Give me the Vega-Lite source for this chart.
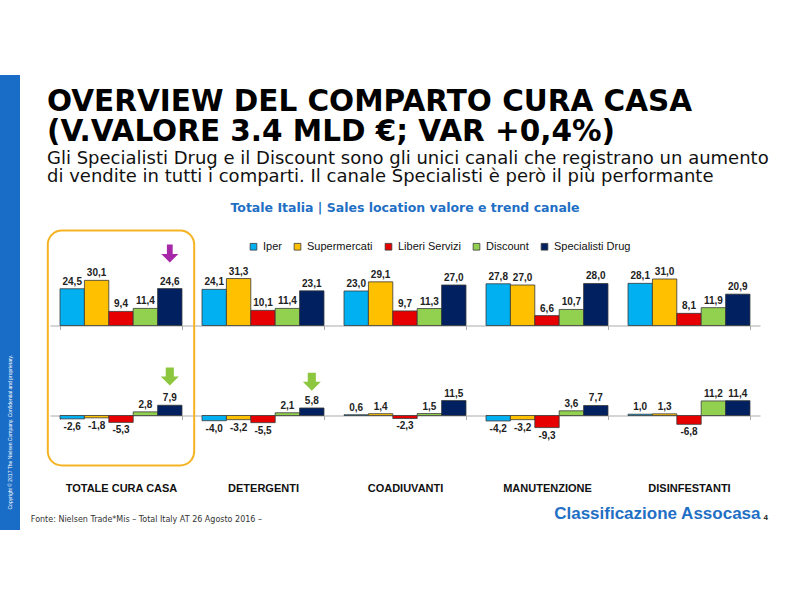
{
  "$schema": "https://vega.github.io/schema/vega-lite/v6.json",
  "padding": {"left": 0, "top": 75, "right": 0, "bottom": 0},
  "background": "white",
  "config": {
    "font": "Liberation Sans",
    "view": {"stroke": null},
    "locale": {"number": {"decimal": ",", "thousands": ".", "grouping": [3], "currency": ["", " €"], "minus": "-"}}
  },
  "datasets": {
    "bars": [
      {"category": "TOTALE CURA CASA", "channel": "Iper", "share": 24.5, "trend": -2.6},
      {"category": "TOTALE CURA CASA", "channel": "Supermercati", "share": 30.1, "trend": -1.8},
      {"category": "TOTALE CURA CASA", "channel": "Liberi Servizi", "share": 9.4, "trend": -5.3},
      {"category": "TOTALE CURA CASA", "channel": "Discount", "share": 11.4, "trend": 2.8},
      {"category": "TOTALE CURA CASA", "channel": "Specialisti Drug", "share": 24.6, "trend": 7.9},
      {"category": "DETERGENTI", "channel": "Iper", "share": 24.1, "trend": -4.0},
      {"category": "DETERGENTI", "channel": "Supermercati", "share": 31.3, "trend": -3.2},
      {"category": "DETERGENTI", "channel": "Liberi Servizi", "share": 10.1, "trend": -5.5},
      {"category": "DETERGENTI", "channel": "Discount", "share": 11.4, "trend": 2.1},
      {"category": "DETERGENTI", "channel": "Specialisti Drug", "share": 23.1, "trend": 5.8},
      {"category": "COADIUVANTI", "channel": "Iper", "share": 23.0, "trend": 0.6},
      {"category": "COADIUVANTI", "channel": "Supermercati", "share": 29.1, "trend": 1.4},
      {"category": "COADIUVANTI", "channel": "Liberi Servizi", "share": 9.7, "trend": -2.3},
      {"category": "COADIUVANTI", "channel": "Discount", "share": 11.3, "trend": 1.5},
      {"category": "COADIUVANTI", "channel": "Specialisti Drug", "share": 27.0, "trend": 11.5},
      {"category": "MANUTENZIONE", "channel": "Iper", "share": 27.8, "trend": -4.2},
      {"category": "MANUTENZIONE", "channel": "Supermercati", "share": 27.0, "trend": -3.2},
      {"category": "MANUTENZIONE", "channel": "Liberi Servizi", "share": 6.6, "trend": -9.3},
      {"category": "MANUTENZIONE", "channel": "Discount", "share": 10.7, "trend": 3.6},
      {"category": "MANUTENZIONE", "channel": "Specialisti Drug", "share": 28.0, "trend": 7.7},
      {"category": "DISINFESTANTI", "channel": "Iper", "share": 28.1, "trend": 1.0},
      {"category": "DISINFESTANTI", "channel": "Supermercati", "share": 31.0, "trend": 1.3},
      {"category": "DISINFESTANTI", "channel": "Liberi Servizi", "share": 8.1, "trend": -6.8},
      {"category": "DISINFESTANTI", "channel": "Discount", "share": 11.9, "trend": 11.2},
      {"category": "DISINFESTANTI", "channel": "Specialisti Drug", "share": 20.9, "trend": 11.4}
    ],
    "note": [{"text": "Copyright © 2017 The Nielsen Company. Confidential and proprietary."}]
  },
  "spacing": 10,
  "hconcat": [
    {
      "width": 20,
      "height": 455,
      "view": {"fill": "#1A6DC6", "stroke": null},
      "data": {"name": "note"},
      "mark": {"type": "text", "angle": 270, "align": "left", "baseline": "middle", "dx": -207, "fontSize": 5, "color": "white"},
      "encoding": {"text": {"field": "text"}}
    },
    {
      "title": {"text": "Fonte: Nielsen Trade*Mis – Total Italy AT 26 Agosto 2016 –", "orient": "bottom", "anchor": "start", "font": "DejaVu Sans", "fontSize": 8, "fontWeight": "normal", "color": "#333333", "offset": -6, "dx": -16},
      "spacing": 15.5,
      "vconcat": [
        {
          "width": 710,
          "height": 12,
          "title": {
            "text": ["OVERVIEW DEL COMPARTO CURA CASA", "(V.VALORE 3.4 MLD €; VAR +0,4%)"],
            "subtitle": ["Gli Specialisti Drug e il Discount sono gli unici canali che registrano un aumento", "di vendite in tutti i comparti. Il canale Specialisti è però il più performante"],
            "orient": "bottom",
            "anchor": "start",
            "font": "DejaVu Sans",
            "fontSize": 29.5,
            "fontWeight": "bold",
            "color": "#000000",
            "lineHeight": 29.5,
            "subtitleFont": "DejaVu Sans",
            "subtitleFontSize": 18,
            "subtitleLineHeight": 18,
            "subtitleColor": "#111111",
            "subtitlePadding": 3,
            "offset": 1,
            "dx": -3
          },
          "data": {"values": [{}]},
          "mark": {"type": "text", "fontSize": 6},
          "encoding": {"text": {"value": ""}}
        },
        {
          "width": 710,
          "height": 240,
          "title": {"text": "Totale Italia | Sales location valore e trend canale", "font": "DejaVu Sans", "fontSize": 12.5, "fontWeight": "bold", "color": "#1F6FC5", "anchor": "middle", "offset": 15},
          "layer": [
            {
              "layer": [
                {
                  "data": {"name": "bars"},
                  "mark": {"type": "bar", "stroke": "#3a3a3a", "strokeWidth": 0.8},
                  "encoding": {
                    "x": {"field": "category", "type": "nominal", "scale": {"domain": ["TOTALE CURA CASA", "DETERGENTI", "COADIUVANTI", "MANUTENZIONE", "DISINFESTANTI"], "paddingInner": 0.141, "paddingOuter": 0.0705},
                      "axis": {"orient": "top", "offset": -95, "labels": false, "title": null, "domainColor": "#AAAAAA", "tickColor": "#AAAAAA", "tickBand": "extent", "tickSize": -4, "grid": false}},
                    "xOffset": {"field": "channel", "type": "nominal", "scale": {"domain": ["Iper", "Supermercati", "Liberi Servizi", "Discount", "Specialisti Drug"], "paddingInner": 0, "paddingOuter": 0}},
                    "y": {"field": "share", "type": "quantitative", "scale": {"domain": [-96.67, 63.33], "nice": false, "zero": false}, "axis": null},
                    "color": {"field": "channel", "type": "nominal", "scale": {"domain": ["Iper", "Supermercati", "Liberi Servizi", "Discount", "Specialisti Drug"], "range": ["#00B0F0", "#FFC000", "#E60000", "#92D050", "#002060"]},
                      "legend": {"orient": "none", "legendX": 248, "legendY": 166, "direction": "horizontal", "columns": 5, "title": null, "symbolType": "square", "symbolSize": 45, "symbolStrokeColor": "#222222", "symbolStrokeWidth": 0.8, "labelFontSize": 11, "labelColor": "#111111", "columnPadding": 10, "labelOffset": 4}}
                  }
                },
                {
                  "data": {"name": "bars"},
                  "mark": {"type": "text", "baseline": "bottom", "dy": -2, "fontSize": 10, "fontWeight": "bold", "color": "#222222"},
                  "encoding": {
                    "x": {"field": "category", "type": "nominal", "scale": {"domain": ["TOTALE CURA CASA", "DETERGENTI", "COADIUVANTI", "MANUTENZIONE", "DISINFESTANTI"], "paddingInner": 0.141, "paddingOuter": 0.0705}},
                    "xOffset": {"field": "channel", "type": "nominal", "scale": {"domain": ["Iper", "Supermercati", "Liberi Servizi", "Discount", "Specialisti Drug"], "paddingInner": 0, "paddingOuter": 0}},
                    "y": {"field": "share", "type": "quantitative", "scale": {"domain": [-96.67, 63.33], "nice": false, "zero": false}, "axis": null},
                    "text": {"field": "share", "type": "quantitative", "format": ".1f"}
                  }
                },
                {
                  "data": {"values": [{"category": "TOTALE CURA CASA"}]},
                  "mark": {"type": "rect", "fill": "white", "fillOpacity": 0, "stroke": "#F5B323", "strokeWidth": 2, "cornerRadius": 14, "width": {"band": 1.2}},
                  "encoding": {
                    "x": {"field": "category", "type": "nominal", "scale": {"domain": ["TOTALE CURA CASA", "DETERGENTI", "COADIUVANTI", "MANUTENZIONE", "DISINFESTANTI"], "paddingInner": 0.141, "paddingOuter": 0.0705}},
                    "y": {"datum": 63.33, "type": "quantitative", "scale": {"domain": [-96.67, 63.33], "nice": false, "zero": false}, "axis": null},
                    "y2": {"datum": -93.33}
                  }
                },
                {
                  "data": {"values": [{"category": "TOTALE CURA CASA", "channel": "Specialisti Drug"}]},
                  "mark": {"type": "point", "shape": "M-0.32,-1L0.32,-1L0.32,0.05L0.95,0.05L0,1L-0.95,0.05L-0.32,0.05Z", "filled": true, "color": "#A628A8", "opacity": 1, "size": 324, "strokeWidth": 0},
                  "encoding": {
                    "x": {"field": "category", "type": "nominal", "scale": {"domain": ["TOTALE CURA CASA", "DETERGENTI", "COADIUVANTI", "MANUTENZIONE", "DISINFESTANTI"], "paddingInner": 0.141, "paddingOuter": 0.0705}},
                    "xOffset": {"field": "channel", "type": "nominal", "scale": {"domain": ["Iper", "Supermercati", "Liberi Servizi", "Discount", "Specialisti Drug"], "paddingInner": 0, "paddingOuter": 0}},
                    "y": {"datum": 48, "type": "quantitative", "scale": {"domain": [-96.67, 63.33], "nice": false, "zero": false}, "axis": null}
                  }
                }
              ]
            },
            {
              "layer": [
                {
                  "data": {"name": "bars"},
                  "mark": {"type": "bar", "stroke": "#3a3a3a", "strokeWidth": 0.8},
                  "encoding": {
                    "x": {"field": "category", "type": "nominal", "scale": {"domain": ["TOTALE CURA CASA", "DETERGENTI", "COADIUVANTI", "MANUTENZIONE", "DISINFESTANTI"], "paddingInner": 0.141, "paddingOuter": 0.0705},
                      "axis": {"orient": "bottom", "offset": -55, "domainColor": "#AAAAAA", "tickColor": "#AAAAAA", "tickBand": "extent", "tickSize": 4, "grid": false, "labelPadding": 63, "labelFontSize": 11, "labelFontWeight": "bold", "labelColor": "#111111", "labelAngle": 0, "labelLimit": 0,
                        "title": "Classificazione Assocasa", "titleAnchor": "end", "titleAlign": "right", "titleFontSize": 17, "titleFontWeight": "bold", "titleColor": "#1F6FC5", "titlePadding": 12}},
                    "xOffset": {"field": "channel", "type": "nominal", "scale": {"domain": ["Iper", "Supermercati", "Liberi Servizi", "Discount", "Specialisti Drug"], "paddingInner": 0, "paddingOuter": 0}},
                    "y": {"field": "trend", "type": "quantitative", "scale": {"domain": [-42.3, 142.3], "nice": false, "zero": false},
                      "axis": {"orient": "right", "domain": false, "ticks": false, "labels": false, "grid": false, "title": "4", "titleAngle": 0, "titleX": 3, "titleY": 289, "titleAlign": "left", "titleBaseline": "alphabetic", "titleFontSize": 8, "titleFontWeight": "bold", "titleColor": "#222222"}},
                    "color": {"field": "channel", "type": "nominal", "scale": {"domain": ["Iper", "Supermercati", "Liberi Servizi", "Discount", "Specialisti Drug"], "range": ["#00B0F0", "#FFC000", "#E60000", "#92D050", "#002060"]}}
                  }
                },
                {
                  "data": {"name": "bars"},
                  "transform": [{"filter": "datum.trend >= 0"}],
                  "mark": {"type": "text", "baseline": "bottom", "dy": -2, "fontSize": 10, "fontWeight": "bold", "color": "#222222"},
                  "encoding": {
                    "x": {"field": "category", "type": "nominal", "scale": {"domain": ["TOTALE CURA CASA", "DETERGENTI", "COADIUVANTI", "MANUTENZIONE", "DISINFESTANTI"], "paddingInner": 0.141, "paddingOuter": 0.0705}},
                    "xOffset": {"field": "channel", "type": "nominal", "scale": {"domain": ["Iper", "Supermercati", "Liberi Servizi", "Discount", "Specialisti Drug"], "paddingInner": 0, "paddingOuter": 0}},
                    "y": {"field": "trend", "type": "quantitative", "scale": {"domain": [-42.3, 142.3], "nice": false, "zero": false}},
                    "text": {"field": "trend", "type": "quantitative", "format": ".1f"}
                  }
                },
                {
                  "data": {"name": "bars"},
                  "transform": [{"filter": "datum.trend < 0"}],
                  "mark": {"type": "text", "baseline": "top", "dy": 3, "fontSize": 10, "fontWeight": "bold", "color": "#222222"},
                  "encoding": {
                    "x": {"field": "category", "type": "nominal", "scale": {"domain": ["TOTALE CURA CASA", "DETERGENTI", "COADIUVANTI", "MANUTENZIONE", "DISINFESTANTI"], "paddingInner": 0.141, "paddingOuter": 0.0705}},
                    "xOffset": {"field": "channel", "type": "nominal", "scale": {"domain": ["Iper", "Supermercati", "Liberi Servizi", "Discount", "Specialisti Drug"], "paddingInner": 0, "paddingOuter": 0}},
                    "y": {"field": "trend", "type": "quantitative", "scale": {"domain": [-42.3, 142.3], "nice": false, "zero": false}},
                    "text": {"field": "trend", "type": "quantitative", "format": ".1f"}
                  }
                },
                {
                  "data": {"values": [{"category": "TOTALE CURA CASA", "channel": "Specialisti Drug"}]},
                  "mark": {"type": "point", "shape": "M-0.45,-1L0.45,-1L0.45,0L1,0L0,1L-1,0L-0.45,0Z", "filled": true, "color": "#8DC63F", "opacity": 1, "size": 324, "strokeWidth": 0},
                  "encoding": {
                    "x": {"field": "category", "type": "nominal", "scale": {"domain": ["TOTALE CURA CASA", "DETERGENTI", "COADIUVANTI", "MANUTENZIONE", "DISINFESTANTI"], "paddingInner": 0.141, "paddingOuter": 0.0705}},
                    "xOffset": {"field": "channel", "type": "nominal", "scale": {"domain": ["Iper", "Supermercati", "Liberi Servizi", "Discount", "Specialisti Drug"], "paddingInner": 0, "paddingOuter": 0}},
                    "y": {"datum": 30, "type": "quantitative", "scale": {"domain": [-42.3, 142.3], "nice": false, "zero": false}}
                  }
                },
                {
                  "data": {"values": [{"category": "DETERGENTI", "channel": "Specialisti Drug"}]},
                  "mark": {"type": "point", "shape": "M-0.45,-1L0.45,-1L0.45,0L1,0L0,1L-1,0L-0.45,0Z", "filled": true, "color": "#8DC63F", "opacity": 1, "size": 324, "strokeWidth": 0},
                  "encoding": {
                    "x": {"field": "category", "type": "nominal", "scale": {"domain": ["TOTALE CURA CASA", "DETERGENTI", "COADIUVANTI", "MANUTENZIONE", "DISINFESTANTI"], "paddingInner": 0.141, "paddingOuter": 0.0705}},
                    "xOffset": {"field": "channel", "type": "nominal", "scale": {"domain": ["Iper", "Supermercati", "Liberi Servizi", "Discount", "Specialisti Drug"], "paddingInner": 0, "paddingOuter": 0}},
                    "y": {"datum": 26, "type": "quantitative", "scale": {"domain": [-42.3, 142.3], "nice": false, "zero": false}}
                  }
                }
              ]
            }
          ],
          "resolve": {"scale": {"y": "independent"}, "axis": {"x": "independent", "y": "independent"}}
        }
      ]
    }
  ]
}
